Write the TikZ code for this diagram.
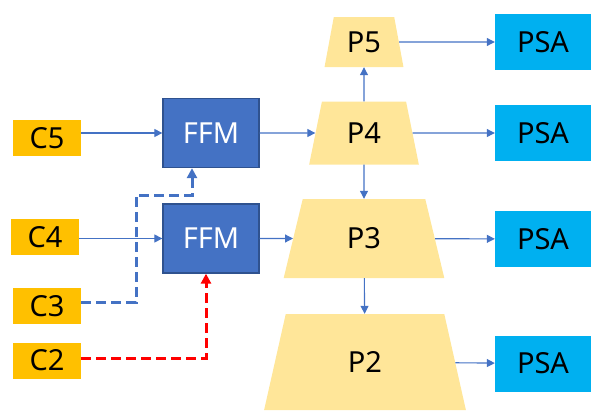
\documentclass[tikz,border=0pt]{standalone}
\usepackage{fontspec}
\setmainfont{Noto Sans}
\usetikzlibrary{arrows.meta}
\usetikzlibrary{shapes.geometric}
\definecolor{cyel}{HTML}{FFC000}
\definecolor{ffmblue}{HTML}{4472C4}
\definecolor{ffmline}{HTML}{2F528F}
\definecolor{pyel}{HTML}{FFE699}
\definecolor{psacyan}{HTML}{00B0F0}
\begin{document}
\begin{tikzpicture}[x=1pt, y=-1pt, font=\fontsize{29}{32}\selectfont,
    cbox/.style = {fill=cyel, minimum width=68pt, minimum height=36pt, inner sep=0pt},
    ffm/.style = {draw=ffmline, line width=1.3pt, fill=ffmblue, text=white, minimum width=96pt, minimum height=69pt, inner sep=0pt},
    pyr/.style = {trapezium, trapezium stretches=true, trapezium angle=76, fill=pyel, inner sep=0pt},
    psa/.style = {fill=psacyan, minimum width=96pt, minimum height=56pt, inner sep=0pt},
    link/.style = {draw=ffmblue, line width=1.1pt, -{Triangle[length=8pt,width=8pt]}},
    skip/.style = {line width=3pt, dash pattern=on 10pt off 5pt, -{Triangle[length=10pt,width=10pt]}}]
    \useasboundingbox (0,0) rectangle (591,410);
            \node[cbox] (c5) at (47,138) {C5};
            \node[cbox] (c4) at (45,237) {C4};
            \node[cbox] (c3) at (47,306) {C3};
            \node[cbox] (c2) at (47,360.5) {C2};
            \node[ffm] (ffm1) at (211,133) {FFM};
            \node[ffm] (ffm2) at (211,238.5) {FFM};
            \node[pyr, minimum width=79pt, minimum height=50pt] (p5) at (364,42) {P5};
            \node[pyr, minimum width=110pt, minimum height=63pt] (p4) at (364,133) {P4};
            \node[pyr, minimum width=161pt, minimum height=79pt] (p3) at (364,238.5) {P3};
            \node[pyr, minimum width=202pt, minimum height=96pt, trapezium angle=77.5] (p2) at (365,362) {P2};
            \node[psa] (psa5) at (543,42) {PSA};
            \node[psa] (psa4) at (543,133) {PSA};
            \node[psa] (psa3) at (543,239) {PSA};
            \node[psa] (psa2) at (543,363.5) {PSA};
            \coordinate (k3) at (136,195);
            \draw[link] (c5.east |- ffm1) -- (ffm1);
            \draw[link] (c4.east |- ffm2) -- (ffm2);
            \draw[link] (ffm1) -- (p4);
            \draw[link] (ffm2) -- (p3);
            \draw[link] (p4) -- (p5);
            \draw[link] (p4) -- (p3);
            \draw[link] (p3) -- (p2);
            \draw[link] (p5) -- (psa5);
            \draw[link] (p4) -- (psa4);
            \draw[link] (p3) -- (psa3);
            \draw[link] (p2) -- (psa2);
            % skip connections from C3 and C2
            \draw[skip, draw=ffmblue] ([yshift=4pt]c3.east) -| (k3) -| ([xshift=-19pt]ffm1.south);
            \draw[skip, draw=red] ([yshift=2.5pt]c2.east) -| ([xshift=-5pt]ffm2.south);
        \end{tikzpicture}
\end{document}
